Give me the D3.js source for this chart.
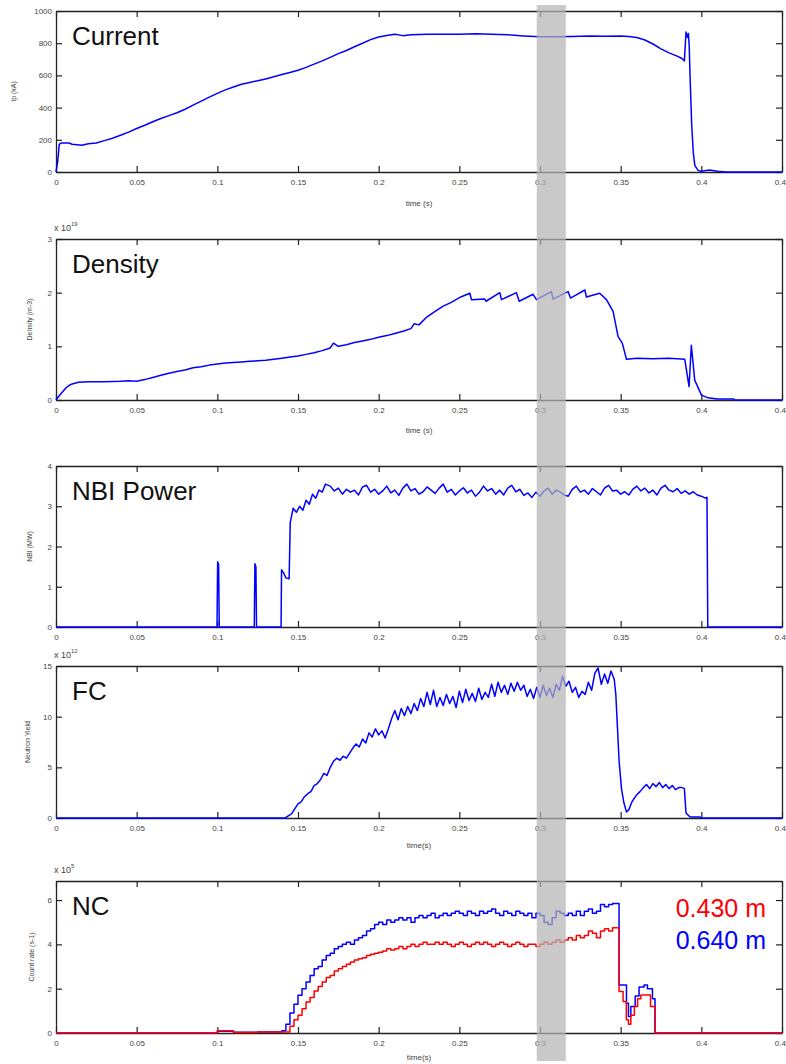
<!DOCTYPE html>
<html>
<head>
<meta charset="utf-8">
<script src="https://cdn.jsdelivr.net/npm/d3@7"></script>
<style>
  body { margin: 0; background: #fff; }
  svg { display: block; font-family: "Liberation Sans", Arial, sans-serif; }
</style>
</head>
<body>
<svg id="chart" width="786" height="1064"></svg>
<script>
// time axis ticks shared by every panel
var timeTicks = [0, 0.05, 0.1, 0.15, 0.2, 0.25, 0.3, 0.35, 0.4, 0.45];

// plasma current (kA)
var currentData = [
  [0,0],[0.001,60],[0.002,170],[0.003,180],[0.008,180],[0.01,172],[0.016,166],[0.02,176],
  [0.025,180],[0.03,195],[0.035,210],[0.04,228],[0.045,248],[0.05,270],[0.055,290],[0.06,312],
  [0.065,332],[0.07,350],[0.075,368],[0.08,390],[0.085,415],[0.09,440],[0.095,465],[0.1,488],
  [0.105,510],[0.11,528],[0.115,545],[0.12,556],[0.125,567],[0.13,578],[0.135,592],[0.14,605],
  [0.145,618],[0.15,632],[0.155,650],[0.16,670],[0.165,690],[0.17,712],[0.175,735],[0.18,755],
  [0.185,778],[0.19,800],[0.195,822],[0.2,838],[0.205,848],[0.21,855],[0.215,847],[0.22,853],
  [0.23,855],[0.25,855],[0.26,858],[0.27,855],[0.28,852],[0.29,845],[0.3,840],[0.31,840],
  [0.32,842],[0.33,845],[0.34,843],[0.35,845],[0.355,842],[0.36,835],[0.365,820],[0.37,795],
  [0.375,765],[0.38,740],[0.385,720],[0.388,705],[0.3895,690],[0.3905,870],[0.3915,835],
  [0.392,860],[0.3925,780],[0.393,600],[0.394,300],[0.395,120],[0.396,40],[0.398,10],[0.4,5],
  [0.405,12],[0.41,4],[0.415,0],[0.45,0]
];

// line-averaged density (x 10^19 m-3)
var densityData = [
  [0,0],[0.002,0.08],[0.004,0.15],[0.006,0.22],[0.008,0.27],[0.01,0.3],[0.014,0.33],[0.02,0.34],
  [0.03,0.34],[0.04,0.35],[0.045,0.36],[0.05,0.35],[0.055,0.38],[0.06,0.42],[0.065,0.46],[0.07,0.5],
  [0.075,0.53],[0.08,0.56],[0.085,0.6],[0.09,0.62],[0.095,0.65],[0.1,0.67],[0.105,0.69],[0.11,0.7],
  [0.115,0.71],[0.12,0.72],[0.125,0.73],[0.13,0.74],[0.135,0.76],[0.14,0.78],[0.145,0.8],[0.15,0.82],
  [0.155,0.85],[0.16,0.88],[0.165,0.92],[0.17,0.97],[0.172,1.06],[0.175,1.0],[0.18,1.03],[0.185,1.07],
  [0.19,1.1],[0.195,1.13],[0.2,1.17],[0.205,1.2],[0.21,1.24],[0.215,1.28],[0.22,1.33],[0.222,1.42],
  [0.225,1.4],[0.23,1.55],[0.235,1.65],[0.24,1.75],[0.245,1.82],[0.2509,1.92],[0.2565,1.99],
  [0.2575,1.87],[0.2658,1.88],[0.2665,1.84],[0.2751,2.0],[0.2761,1.87],[0.2854,2.0],[0.2871,1.84],
  [0.2957,1.97],[0.2978,1.87],[0.3071,2.02],[0.3081,1.88],[0.3174,2.02],[0.3189,1.9],[0.3278,2.05],
  [0.3288,1.92],[0.337,1.99],[0.3412,1.87],[0.3453,1.65],[0.3484,1.18],[0.351,1.06],[0.3536,0.76],
  [0.36,0.78],[0.37,0.77],[0.38,0.78],[0.3897,0.76],[0.3924,0.25],[0.3938,1.02],[0.3959,0.37],
  [0.4001,0.09],[0.4042,0.04],[0.41,0.02],[0.42,0.02],[0.421,0],[0.45,0]
];

// neutral beam power (MW)
var nbiData = [
  [0,0],[0.0998,0],[0.1002,1.62],[0.1008,1.55],[0.1012,0],[0.1229,0],[0.1233,1.57],[0.1239,1.5],
  [0.1243,0],[0.1395,0],[0.1398,1.42],[0.141,1.35],[0.1425,1.22],[0.1445,1.2],[0.1452,2.6],
  [0.147,2.95],[0.149,2.85],[0.151,3.0],[0.153,2.9],[0.155,3.15],[0.157,3.05],[0.159,3.3],
  [0.161,3.2],[0.163,3.4],[0.165,3.35],[0.167,3.55],[0.17,3.5],[0.1725,3.38],[0.175,3.45],
  [0.1775,3.3],[0.18,3.42],[0.1825,3.35],[0.185,3.4],[0.1875,3.28],[0.19,3.48],[0.1925,3.52],
  [0.195,3.35],[0.1975,3.42],[0.2,3.3],[0.2025,3.38],[0.205,3.5],[0.2075,3.33],[0.21,3.4],
  [0.2125,3.27],[0.215,3.45],[0.2175,3.55],[0.22,3.38],[0.2225,3.44],[0.225,3.3],[0.2275,3.36],
  [0.23,3.48],[0.2325,3.4],[0.235,3.32],[0.2375,3.45],[0.24,3.55],[0.2425,3.35],[0.245,3.42],
  [0.2475,3.28],[0.25,3.38],[0.2525,3.46],[0.255,3.33],[0.2575,3.4],[0.26,3.25],[0.2625,3.35],
  [0.265,3.5],[0.2675,3.38],[0.27,3.44],[0.2725,3.3],[0.275,3.4],[0.2775,3.28],[0.28,3.45],
  [0.2825,3.52],[0.285,3.36],[0.2875,3.42],[0.29,3.27],[0.2925,3.33],[0.295,3.22],[0.2975,3.35],
  [0.3,3.25],[0.3025,3.38],[0.305,3.45],[0.3075,3.3],[0.31,3.4],[0.3125,3.35],[0.315,3.28],
  [0.3175,3.25],[0.32,3.42],[0.3225,3.5],[0.325,3.35],[0.3275,3.4],[0.33,3.3],[0.3325,3.44],
  [0.335,3.36],[0.3375,3.28],[0.34,3.45],[0.3425,3.52],[0.345,3.38],[0.3475,3.4],[0.35,3.3],
  [0.3525,3.36],[0.355,3.28],[0.3575,3.42],[0.36,3.5],[0.3625,3.38],[0.365,3.45],[0.3675,3.33],
  [0.37,3.4],[0.3725,3.28],[0.375,3.45],[0.3775,3.52],[0.38,3.4],[0.3825,3.36],[0.385,3.44],
  [0.3875,3.32],[0.39,3.38],[0.3925,3.3],[0.395,3.36],[0.3975,3.28],[0.4,3.25],[0.4025,3.2],
  [0.4035,3.22],[0.404,0],[0.45,0]
];

// fission chamber neutron yield (x 10^12)
var fcData = [
  [0,0],[0.142,0],[0.144,0.2],[0.146,0.4],[0.148,0.9],[0.15,1.4],[0.152,1.6],[0.154,2.1],[0.156,2.4],
  [0.158,2.6],[0.16,3.2],[0.162,3.4],[0.164,3.8],[0.166,4.4],[0.168,4.2],[0.17,5.0],[0.172,5.6],
  [0.174,5.9],[0.176,5.7],[0.178,6.1],[0.18,5.9],[0.182,6.4],[0.184,6.9],[0.186,7.3],[0.188,7.0],
  [0.19,7.8],[0.192,7.4],[0.194,8.4],[0.196,8.0],[0.198,8.8],[0.2,8.2],[0.202,8.6],[0.204,7.9],
  [0.206,8.8],[0.208,9.8],[0.21,10.6],[0.212,9.7],[0.214,10.8],[0.216,10.1],[0.218,11.0],[0.22,10.3],
  [0.222,11.3],[0.224,10.6],[0.226,11.8],[0.228,11.0],[0.23,12.4],[0.232,11.2],[0.234,12.6],
  [0.236,11.0],[0.238,11.9],[0.24,11.1],[0.242,12.2],[0.244,11.3],[0.246,12.0],[0.248,10.9],
  [0.25,12.5],[0.252,11.4],[0.254,12.7],[0.256,11.6],[0.258,12.3],[0.26,11.5],[0.262,12.8],
  [0.264,11.7],[0.266,12.4],[0.268,11.9],[0.27,13.2],[0.272,12.0],[0.274,13.4],[0.276,12.4],
  [0.278,13.1],[0.28,12.2],[0.282,13.3],[0.284,12.5],[0.286,13.4],[0.288,12.6],[0.29,13.1],
  [0.292,12.0],[0.294,12.7],[0.296,11.8],[0.298,12.9],[0.3,11.9],[0.302,13.1],[0.304,12.1],
  [0.306,12.8],[0.308,11.9],[0.31,13.2],[0.312,12.6],[0.314,14.0],[0.316,13.0],[0.318,13.5],
  [0.32,12.4],[0.322,12.9],[0.324,11.9],[0.326,12.5],[0.328,12.2],[0.33,13.4],[0.332,12.6],
  [0.334,14.3],[0.336,14.8],[0.338,13.2],[0.34,14.2],[0.342,13.3],[0.344,14.5],[0.346,13.7],
  [0.347,12.2],[0.349,5.7],[0.3505,2.9],[0.352,1.5],[0.3536,0.6],[0.355,0.8],[0.357,1.6],[0.36,2.3],
  [0.362,2.6],[0.364,3.0],[0.366,3.3],[0.368,2.9],[0.37,3.4],[0.372,3.1],[0.374,3.5],[0.376,3.0],
  [0.378,3.3],[0.38,2.9],[0.382,3.2],[0.384,2.8],[0.386,3.0],[0.388,3.0],[0.3895,2.9],[0.3905,0.5],
  [0.393,0.1],[0.399,0.1],[0.4,0],[0.45,0]
];

// neutron collimator count rate (x 10^5 s-1), two chords
var nc640Data = [
  [0,0],[0.1,0.08],[0.11,0.03],[0.125,0.05],[0.14,0.1],[0.1425,0.4],[0.145,0.9],[0.1475,1.3],
  [0.15,1.7],[0.1525,2.0],[0.155,2.3],[0.1575,2.6],[0.16,2.9],[0.1625,3.0],[0.165,3.3],[0.1675,3.5],
  [0.17,3.6],[0.1725,3.8],[0.175,3.9],[0.1775,4.0],[0.18,4.1],[0.1825,4.0],[0.185,4.2],[0.1875,4.3],
  [0.19,4.4],[0.1925,4.6],[0.195,4.7],[0.1975,4.9],[0.2,5.0],[0.2025,4.9],[0.205,5.1],[0.2075,5.0],
  [0.21,5.1],[0.2125,5.2],[0.215,5.1],[0.2175,5.2],[0.22,5.0],[0.2225,5.2],[0.225,5.3],[0.2275,5.2],
  [0.23,5.3],[0.2325,5.4],[0.235,5.2],[0.2375,5.3],[0.24,5.4],[0.2425,5.3],[0.245,5.4],[0.2475,5.5],
  [0.25,5.4],[0.2525,5.3],[0.255,5.5],[0.2575,5.4],[0.26,5.3],[0.2625,5.5],[0.265,5.4],[0.2675,5.5],
  [0.27,5.6],[0.2725,5.4],[0.275,5.3],[0.2775,5.5],[0.28,5.4],[0.2825,5.3],[0.285,5.5],[0.2875,5.4],
  [0.29,5.3],[0.2925,5.4],[0.295,5.2],[0.2975,5.4],[0.3,5.3],[0.3025,5.0],[0.305,4.9],[0.3075,5.2],
  [0.31,5.5],[0.3125,5.4],[0.315,5.3],[0.3175,5.4],[0.32,5.3],[0.3225,5.5],[0.325,5.3],[0.3275,5.5],
  [0.33,5.6],[0.3325,5.4],[0.335,5.5],[0.3375,5.8],[0.34,5.7],[0.3425,5.8],[0.345,5.85],
  [0.349,2.17],[0.3536,1.34],[0.3548,0.74],[0.3563,1.2],[0.359,1.67],[0.3614,2.08],[0.3645,2.17],
  [0.3666,2.0],[0.3697,1.55],[0.3713,0],[0.45,0]
];
var nc430Data = [
  [0,0],[0.1,0.1],[0.11,0.02],[0.125,0.05],[0.14,0.05],[0.145,0.3],[0.1475,0.6],[0.15,0.8],
  [0.1525,1.1],[0.155,1.4],[0.1575,1.6],[0.16,1.9],[0.1625,2.1],[0.165,2.3],[0.1675,2.5],[0.17,2.6],
  [0.1725,2.8],[0.175,2.9],[0.1775,3.0],[0.18,3.1],[0.1825,3.2],[0.185,3.3],[0.1875,3.35],[0.19,3.4],
  [0.1925,3.5],[0.195,3.55],[0.1975,3.6],[0.2,3.65],[0.2025,3.7],[0.205,3.8],[0.2075,3.75],[0.21,3.8],
  [0.2125,3.9],[0.215,3.8],[0.2175,3.9],[0.22,4.0],[0.2225,3.9],[0.225,4.0],[0.2275,4.1],[0.23,4.0],
  [0.2325,4.0],[0.235,4.1],[0.2375,4.0],[0.24,4.1],[0.2425,4.0],[0.245,3.9],[0.2475,4.0],[0.25,4.1],
  [0.2525,4.0],[0.255,3.9],[0.2575,4.0],[0.26,4.1],[0.2625,4.0],[0.265,4.1],[0.2675,4.0],[0.27,3.9],
  [0.2725,4.0],[0.275,4.1],[0.2775,4.0],[0.28,3.9],[0.2825,4.0],[0.285,4.1],[0.2875,4.0],[0.29,3.9],
  [0.2925,4.0],[0.295,4.0],[0.2975,3.9],[0.3,4.0],[0.3025,4.1],[0.305,4.0],[0.3075,4.1],[0.31,4.2],
  [0.3125,4.1],[0.315,4.2],[0.3175,4.3],[0.32,4.2],[0.3225,4.4],[0.325,4.3],[0.3275,4.4],[0.33,4.6],
  [0.3325,4.5],[0.335,4.3],[0.3375,4.6],[0.34,4.7],[0.3425,4.6],[0.345,4.75],[0.349,1.87],
  [0.3515,1.42],[0.3535,0.6],[0.3548,0.4],[0.3563,0.8],[0.3585,1.2],[0.3605,1.55],[0.3625,1.72],
  [0.3665,1.72],[0.3685,1.2],[0.3713,0],[0.45,0]
];

var ncLegend = ["0.430 m", "0.640 m"];
var shadeRange = [0.298, 0.316];

var svg = d3.select("#chart");
var x = d3.scaleLinear().domain([0, 0.45]).range([56, 782]);

var panels = [
  { title: "Current", top: 11, bottom: 172, domain: [0, 1000], ticks: [0,200,400,600,800,1000],
    ylab: "Ip (kA)", ylabX: 16, xlab: "time (s)", xlabDy: 34, series: [{ data: currentData, color: "#0000ff" }] },
  { title: "Density", top: 239, bottom: 400, domain: [0, 3], ticks: [0,1,2,3], exp: "19",
    ylab: "Density (m-3)", ylabX: 32, xlab: "time (s)", xlabDy: 33, series: [{ data: densityData, color: "#0000ff" }] },
  { title: "NBI Power", top: 466, bottom: 627, domain: [0, 4], ticks: [0,1,2,3,4],
    ylab: "NBI (MW)", ylabX: 32, xlab: null, series: [{ data: nbiData, color: "#0000ff" }] },
  { title: "FC", top: 666, bottom: 818, domain: [0, 15], ticks: [0,5,10,15], exp: "12",
    ylab: "Neutron Yield", ylabX: 30, xlab: "time(s)", xlabDy: 30, series: [{ data: fcData, color: "#0000ff" }] },
  { title: "NC", top: 881, bottom: 1033, domain: [0, 6.86], ticks: [0,2,4,6], exp: "5",
    ylab: "Count rate (s-1)", ylabX: 34, xlab: "time(s)", xlabDy: 27, step: true,
    series: [{ data: nc640Data, color: "#0000ff" }, { data: nc430Data, color: "#ff0000" }] }
];

function styleTicks(sel) {
  sel.selectAll(".tick line").attr("stroke", "#222").attr("stroke-width", 1.2);
  sel.selectAll(".tick text").attr("fill", "#444").style("font-size", "8px");
  sel.select(".domain").attr("stroke", "#222").attr("stroke-width", 1.3);
}

panels.forEach((p, i) => {
  var y = d3.scaleLinear().domain(p.domain).range([p.bottom, p.top]);
  var g = svg.append("g");

  g.append("clipPath").attr("id", "clip" + i)
    .append("rect")
    .attr("x", x(0) - 1).attr("y", p.top - 1)
    .attr("width", x(0.45) - x(0) + 2).attr("height", p.bottom - p.top + 2);

  g.append("g").attr("transform", `translate(0,${p.bottom})`)
    .call(d3.axisBottom(x).tickValues(timeTicks).tickSizeInner(-6).tickSizeOuter(0)
      .tickPadding(7).tickFormat(d => String(d)))
    .call(styleTicks);
  g.append("g").attr("transform", `translate(0,${p.top})`)
    .call(d3.axisTop(x).tickValues(timeTicks).tickSizeInner(-6).tickSizeOuter(0).tickFormat(""))
    .call(styleTicks);
  g.append("g").attr("transform", `translate(${x(0)},0)`)
    .call(d3.axisLeft(y).tickValues(p.ticks).tickSizeInner(-6).tickSizeOuter(0).tickPadding(4)
      .tickFormat(d => String(d)))
    .call(styleTicks);
  g.append("g").attr("transform", `translate(${x(0.45)},0)`)
    .call(d3.axisRight(y).tickValues(p.ticks).tickSizeInner(-6).tickSizeOuter(0).tickFormat(""))
    .call(styleTicks);

  var line = d3.line()
    .x(d => x(d[0]))
    .y(d => y(d[1]))
    .curve(p.step ? d3.curveStepAfter : d3.curveLinear);

  p.series.forEach(s => {
    g.append("path")
      .datum(s.data)
      .attr("clip-path", `url(#clip${i})`)
      .attr("fill", "none")
      .attr("stroke", s.color)
      .attr("stroke-width", 1.5)
      .attr("stroke-linejoin", "round")
      .attr("d", line);
  });

  g.append("text")
    .attr("x", 72)
    .attr("y", p.top + 34)
    .style("font-size", "26px")
    .attr("fill", "#111")
    .text(p.title);

  g.append("text")
    .attr("transform", `translate(${p.ylabX},${(p.top + p.bottom) / 2}) rotate(-90)`)
    .attr("text-anchor", "middle")
    .style("font-size", "7px")
    .attr("fill", "#444")
    .text(p.ylab);

  if (p.xlab) {
    g.append("text")
      .attr("x", (x(0) + x(0.45)) / 2)
      .attr("y", p.bottom + p.xlabDy)
      .attr("text-anchor", "middle")
      .style("font-size", "8px")
      .attr("fill", "#444")
      .text(p.xlab);
  }

  if (p.exp) {
    var t = g.append("text")
      .attr("x", 54)
      .attr("y", p.top - 8)
      .style("font-size", "9px")
      .attr("fill", "#444");
    t.append("tspan").text("x 10");
    t.append("tspan").attr("dy", -5).style("font-size", "6px").text(p.exp);
  }

  if (p.title === "NC") {
    ncLegend.forEach((lab, k) => {
      g.append("text")
        .attr("x", 766)
        .attr("y", 917 + k * 32)
        .attr("text-anchor", "end")
        .style("font-size", "25px")
        .attr("fill", k === 0 ? "#ff0000" : "#0000ff")
        .text(lab);
    });
  }
});

// shaded time window over all panels
svg.append("rect")
  .attr("x", x(shadeRange[0]))
  .attr("y", 5)
  .attr("width", x(shadeRange[1]) - x(shadeRange[0]))
  .attr("height", 1056)
  .attr("fill", "#b4b4b4")
  .attr("opacity", 0.72);
</script>
</body>
</html>
